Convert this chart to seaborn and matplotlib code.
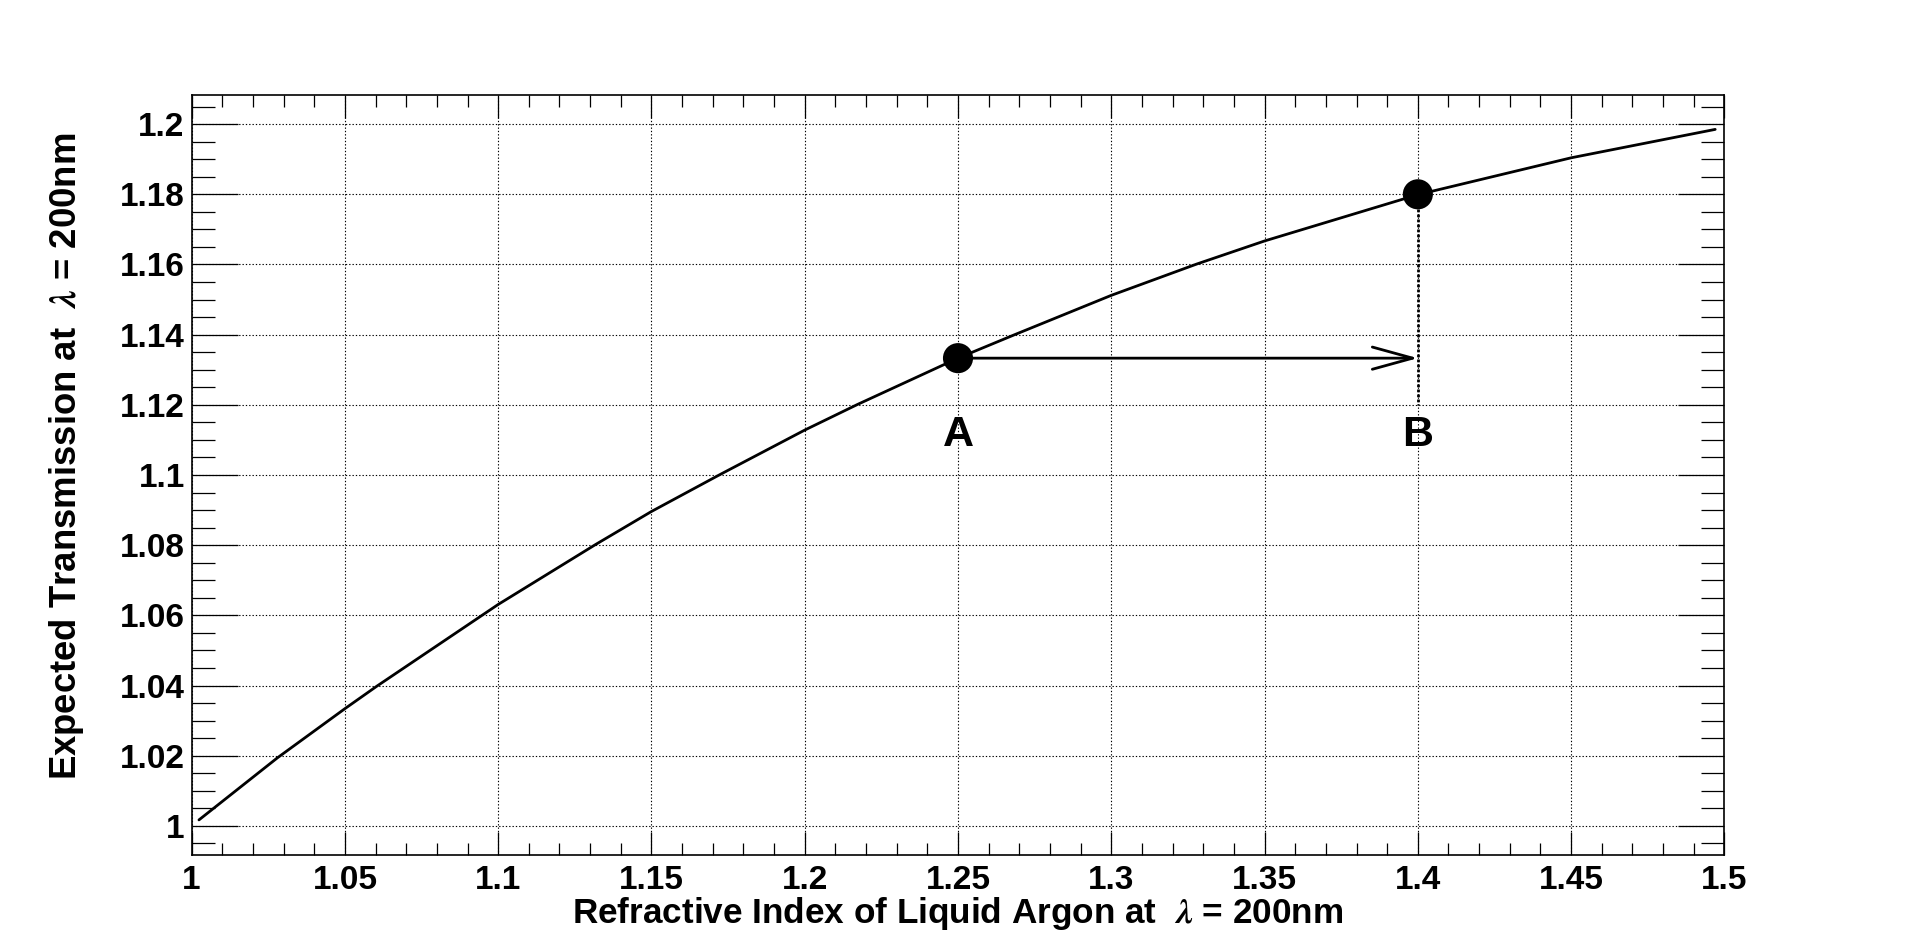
import matplotlib
matplotlib.use("Agg")
import matplotlib.pyplot as plt
from matplotlib.ticker import MultipleLocator, FuncFormatter
import pandas as pd
import seaborn as sns

# transmission curve
n_index = [1.0024, 1.028, 1.05, 1.0604, 1.1, 1.1318, 1.15, 1.1723, 1.2, 1.2172,
           1.25, 1.2685, 1.3, 1.3278, 1.35, 1.4, 1.45, 1.497]
transmission = [1.0017, 1.0194, 1.0334, 1.0398, 1.0631, 1.0802, 1.0896, 1.1001, 1.1128, 1.1201,
                1.1333, 1.1400, 1.1512, 1.1601, 1.1667, 1.1799, 1.1904, 1.1985]

# the two marked points
point_labels = ["A", "B"]
point_n = [1.25, 1.4]
point_t = [1.1333, 1.1800]
drop_to = 1.12        # dotted line from B goes down to here
label_t = 1.1114      # height of the A / B letters

curve = pd.DataFrame({"n": n_index, "T": transmission})
points = pd.DataFrame({"n": point_n, "T": point_t, "label": point_labels})

sns.set_theme(style="white")
plt.rcParams['font.family'] = ['Liberation Sans', 'DejaVu Sans']
plt.rcParams['font.weight'] = 'bold'
plt.rcParams['mathtext.fontset'] = 'stix'
plt.rcParams['text.color'] = 'black'
plt.rcParams['axes.labelcolor'] = 'black'
plt.rcParams['xtick.color'] = 'black'
plt.rcParams['ytick.color'] = 'black'

fig = plt.figure(figsize=(19.16, 9.5), dpi=100)
ax = fig.add_axes([0.1, 0.1, 0.8, 0.8])

sns.lineplot(data=curve, x="n", y="T", ax=ax, color="black", lw=2,
             sort=False, estimator=None, zorder=3)
sns.scatterplot(data=points, x="n", y="T", ax=ax, color="black", s=470,
                marker="o", edgecolor="none", zorder=5)

# arrow A -> B and dotted drop from B
ax.annotate("", xy=(point_n[1], point_t[0]), xytext=(point_n[0], point_t[0]),
            arrowprops=dict(arrowstyle="->,head_length=1.45,head_width=0.4",
                            lw=2, color="black", mutation_scale=20,
                            shrinkA=0, shrinkB=0), zorder=4)
ax.plot([point_n[1], point_n[1]], [point_t[1], drop_to], color="black",
        lw=2, ls=(0, (1, 0.8)), zorder=4)

for lab, x in zip(point_labels, point_n):
    ax.text(x, label_t, lab, ha="center", va="center", fontsize=31,
            fontweight="bold", color="black")

ax.set_xlim(1.0, 1.5)
ax.set_ylim(0.9917, 1.2083)

fmt = FuncFormatter(lambda v, p: f"{round(v, 4):g}")
ax.xaxis.set_major_locator(MultipleLocator(0.05))
ax.xaxis.set_minor_locator(MultipleLocator(0.01))
ax.yaxis.set_major_locator(MultipleLocator(0.02))
ax.yaxis.set_minor_locator(MultipleLocator(0.005))
ax.xaxis.set_major_formatter(fmt)
ax.yaxis.set_major_formatter(fmt)

ax.tick_params(axis="x", which="both", direction="in", top=True, bottom=True,
               width=0.9, labelsize=24, pad=7.5)
ax.tick_params(axis="x", which="major", length=16.5)
ax.tick_params(axis="x", which="minor", length=8.6)
ax.tick_params(axis="y", which="both", direction="in", left=True, right=True,
               width=0.9, labelsize=24, pad=5)
ax.tick_params(axis="y", which="major", length=33)
ax.tick_params(axis="y", which="minor", length=16.5)

ax.grid(True, which="major", color="black", lw=0.8, ls=(0, (1.2, 1.8)))
for s in ax.spines.values():
    s.set_color("black")
    s.set_linewidth(1.2)

ax.set_xlabel(r"Refractive Index of Liquid Argon at  $\lambda$ = 200nm",
              fontsize=25.3, fontweight="bold")
ax.set_ylabel(r"Expected Transmission at  $\lambda$ = 200nm",
              fontsize=26.3, fontweight="bold")
ax.xaxis.set_label_coords(0.5, -0.053)
ax.yaxis.set_label_coords(-0.069, 0.524)

fig.savefig("out.png", dpi=100)
